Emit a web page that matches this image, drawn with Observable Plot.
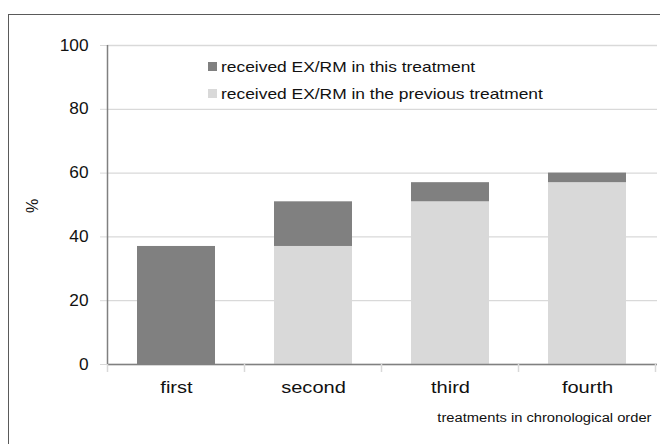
<!DOCTYPE html>
<html>
<head>
<meta charset="utf-8">
<script src="https://cdn.jsdelivr.net/npm/d3@7"></script>
<script src="https://cdn.jsdelivr.net/npm/@observablehq/plot@0.6"></script>
<style>
  html, body { margin: 0; padding: 0; background: #fff; overflow: hidden; }
  #wrap { position: relative; width: 660px; height: 444px; overflow: hidden; background: #fff; }
  #frame { position: absolute; left: 8px; top: 14px; width: 700px; height: 500px; border: 1.5px solid #5a5a5a; box-sizing: border-box; pointer-events: none; }
  #chart { position: absolute; left: 0; top: 0; }
</style>
</head>
<body>
<div id="wrap"><div id="chart"></div><div id="frame"></div></div>
<script>
const categories = ["first", "second", "third", "fourth"];
const seriesNames = ["received EX/RM in this treatment", "received EX/RM in the previous treatment"];
const previousValues = [0, 37, 51, 57];
const thisValues = [37, 14, 6, 3];
const yTicks = [0, 20, 40, 60, 80, 100];
const colors = ["#808080", "#d9d9d9"];

const data = [];
categories.forEach((c, i) => data.push({category: c, series: seriesNames[1], value: previousValues[i]}));
categories.forEach((c, i) => data.push({category: c, series: seriesNames[0], value: thisValues[i]}));

const font = "'Liberation Sans', Arial, sans-serif";

const chart = Plot.plot({
  width: 660,
  height: 444,
  marginLeft: 107,
  marginRight: 3,
  marginTop: 45,
  marginBottom: 80,
  style: {fontFamily: font, background: "transparent", color: "#111"},
  x: {domain: categories, paddingInner: 0.43, paddingOuter: 0.215, label: null},
  y: {domain: [0, 100], ticks: yTicks, label: null},
  color: {domain: seriesNames, range: colors},
  marks: [
    Plot.gridY(yTicks, {stroke: "#d9d9d9", strokeOpacity: 1, strokeWidth: 1.3}),
    Plot.axisY(yTicks, {tickSize: 7, tickPadding: 12, stroke: "#d9d9d9", fill: "#111", fontSize: 16, label: null}),
    Plot.axisX({tickSize: 0, tickPadding: 16, fill: "#111", fontSize: 17, label: null}),
    Plot.barY(data, {x: "category", y: "value", fill: "series"}),
    Plot.ruleY([0], {stroke: "#808080", strokeWidth: 1.5}),
    Plot.text(["%"], {frameAnchor: "left", text: d => d, rotate: -90, dx: -75, dy: 8, fontSize: 16, fill: "#111"}),
    Plot.text(["treatments in chronological order"], {frameAnchor: "bottom-right", text: d => d, textAnchor: "end", dx: -6, dy: 57, fontSize: 13.5, fill: "#111"})
  ]
});

document.getElementById("chart").appendChild(chart);

const svg = d3.select(chart);

// horizontal stretch of text, as in the reference
function stretch(selector, k) {
  svg.selectAll(selector).each(function () {
    const t = this.getAttribute("transform") || "";
    if (t.includes("rotate")) return;
    this.setAttribute("transform", t + ` scale(${k},1)`);
  });
}
stretch("g[aria-label='x-axis tick label'] text", 1.18);
stretch("g[aria-label='y-axis tick label'] text", 1.08);
stretch("g[aria-label='text'] text", 1.09);

const xs = chart.scale("x");
const ys = chart.scale("y");
const y0 = ys.apply(0);
const y100 = ys.apply(100);
const gap = xs.step - xs.bandwidth;
const bounds = categories.map(c => xs.apply(c) - gap / 2);
bounds.push(xs.apply(categories[categories.length - 1]) + xs.bandwidth + gap / 2);

// category boundary ticks
svg.append("g").selectAll("line").data(bounds).join("line")
  .attr("x1", d => d).attr("x2", d => d)
  .attr("y1", y0).attr("y2", y0 + 8)
  .attr("stroke", "#d9d9d9").attr("stroke-width", 1.5);

// y axis line
svg.append("line")
  .attr("x1", bounds[0]).attr("x2", bounds[0])
  .attr("y1", y100).attr("y2", y0)
  .attr("stroke", "#808080").attr("stroke-width", 1.5);

// legend
const lg = svg.append("g").attr("font-family", font).attr("font-size", 15).attr("text-anchor", "start");
const rows = [66.5, 93.5];
seriesNames.forEach((name, i) => {
  lg.append("rect").attr("x", 208).attr("y", rows[i] - 4.5).attr("width", 9).attr("height", 9).attr("fill", colors[i]);
  lg.append("text").attr("transform", `translate(221,${rows[i]}) scale(1.16,1)`).attr("dy", "0.35em").attr("text-anchor", "start").attr("fill", "#111").text(name);
});
</script>
</body>
</html>
